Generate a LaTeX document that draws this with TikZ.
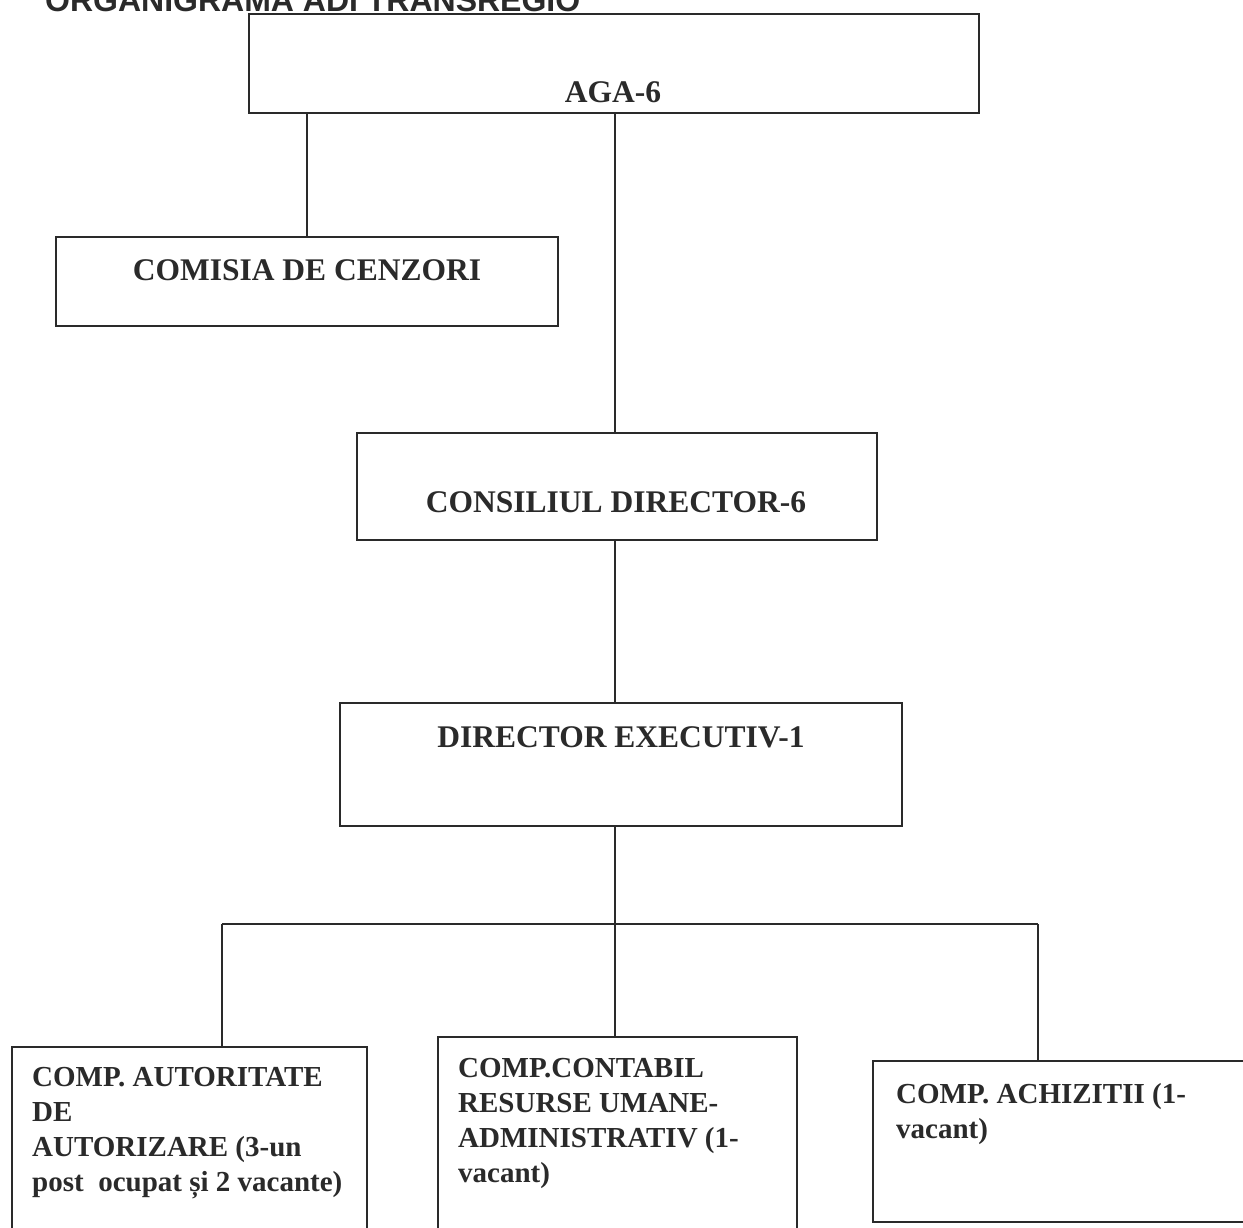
\documentclass[tikz,border=0pt]{standalone}
\usepackage{fontspec}
\setmainfont{Liberation Serif}
\newfontfamily\titlefont{Liberation Sans}
\definecolor{ink}{HTML}{2A2A2A}
\begin{document}
\begin{tikzpicture}[x=1pt,y=-1pt,
  box/.style={draw=ink, line width=1.7pt, inner sep=0pt, fill=none},
  bigtxt/.style={text=ink, inner sep=0pt, font=\bfseries\fontsize{31.5}{36}\selectfont},
  smalltxt/.style={text=ink, inner sep=0pt, align=left, anchor=north west, font=\bfseries\fontsize{29}{35}\selectfont},
  conn/.style={draw=ink, line width=1.5pt}]
\useasboundingbox (0,0) rectangle (1243,1228);
\clip (0,0) rectangle (1243,1228);
\fill[white] (0,0) rectangle (1243,1228);
% title (cut at the top)
\node[text=ink, inner sep=0pt, anchor=base west, font=\titlefont\bfseries\fontsize{32}{36}\selectfont] (title) at (45,12) {ORGANIGRAMA ADI TRANSREGIO};
% boxes
\node[box, minimum width=730pt, minimum height=99pt] (aga) at (614,63.5) {};
\node[box, minimum width=502pt, minimum height=89pt] (cenz) at (307,281.5) {};
\node[box, minimum width=520pt, minimum height=107pt] (cons) at (617,486.5) {};
\node[box, minimum width=562pt, minimum height=123pt] (dir) at (621,764.5) {};
\node[box, minimum width=355pt, minimum height=200pt] (b1) at (189.5,1147) {};
\node[box, minimum width=359pt, minimum height=210pt] (b2) at (617.5,1142) {};
\node[box, minimum width=387pt, minimum height=161pt] (b3) at (1066.5,1141.5) {};
% texts
\node[bigtxt] (agat) at (613,92) {AGA-6};
\node[bigtxt] (cenzt) at (307,270) {COMISIA DE CENZORI};
\node[bigtxt] (const) at (616,502) {CONSILIUL DIRECTOR-6};
\node[bigtxt] (dirt) at (621,737) {DIRECTOR EXECUTIV-1};
\node[smalltxt] (b1t) at (32,1067) {COMP. AUTORITATE\\DE\\AUTORIZARE (3-un\\post\ \ ocupat și 2 vacante)};
\node[smalltxt] (b2t) at (458,1058) {COMP.CONTABIL\\RESURSE UMANE-\\ADMINISTRATIV (1-\\vacant)};
\node[smalltxt] (b3t) at (896,1083) {COMP. ACHIZITII (1-\\vacant)};
% connectors
\coordinate (busL) at (222,924);
\coordinate (busR) at (1038,924);
\coordinate (busM) at (615,924);
\draw[conn] (cenz.north) -- (cenz.north |- aga.south);
\draw[conn] (cons.north -| busM) -- (busM |- aga.south);
\draw[conn] (cons.south -| busM) -- (busM |- dir.north);
\draw[conn] (dir.south -| busM) -- (busM);
\draw[conn] (busL) -- (busR);
\draw[conn] (busL) -- (busL |- b1.north);
\draw[conn] (busM) -- (busM |- b2.north);
\draw[conn] (busR) -- (busR |- b3.north);
\end{tikzpicture}
\end{document}
